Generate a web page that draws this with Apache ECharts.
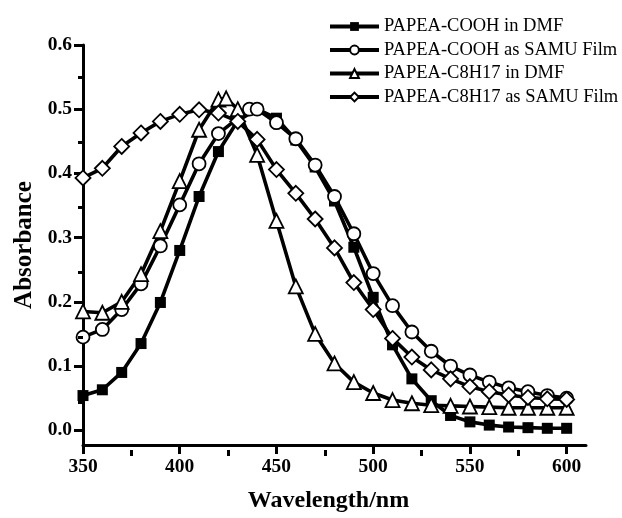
<!DOCTYPE html>
<html>
<head>
<meta charset="utf-8">
<script src="https://cdn.jsdelivr.net/npm/echarts@6/dist/echarts.min.js"></script>
<style>
  html, body { margin: 0; padding: 0; background: #fff; }
  #chart { width: 622px; height: 518px; }
</style>
</head>
<body>
<div id="chart"></div>
<script>
// PAPEA-COOH in DMF (filled squares)
const wlCoohDmf = [350, 360, 370, 380, 390, 400, 410, 420, 430, 440, 450, 460, 470, 480, 490, 500, 510, 520, 530, 540, 550, 560, 570, 580, 590, 600]
const absCoohDmf = [0.054, 0.063, 0.090, 0.135, 0.199, 0.280, 0.364, 0.434, 0.482, 0.500, 0.486, 0.452, 0.410, 0.357, 0.285, 0.207, 0.133, 0.080, 0.046, 0.023, 0.013, 0.008, 0.005, 0.004, 0.003, 0.003]

// PAPEA-COOH as SAMU Film (open circles)
const wlCoohFilm = [350, 360, 370, 380, 390, 400, 410, 420, 436, 440, 450, 460, 470, 480, 490, 500, 510, 520, 530, 540, 550, 560, 570, 580, 590, 600]
const absCoohFilm = [0.145, 0.157, 0.188, 0.228, 0.287, 0.351, 0.415, 0.462, 0.500, 0.500, 0.479, 0.454, 0.413, 0.364, 0.306, 0.244, 0.194, 0.153, 0.123, 0.100, 0.086, 0.075, 0.066, 0.060, 0.054, 0.050]

// PAPEA-C8H17 in DMF (open triangles)
const wlC8Dmf = [350, 360, 370, 380, 390, 400, 410, 420, 424, 430, 440, 450, 460, 470, 480, 490, 500, 510, 520, 530, 540, 550, 560, 570, 580, 590, 600]
const absC8Dmf = [0.185, 0.183, 0.200, 0.243, 0.310, 0.388, 0.468, 0.515, 0.517, 0.500, 0.429, 0.326, 0.224, 0.150, 0.104, 0.075, 0.058, 0.047, 0.042, 0.039, 0.038, 0.037, 0.036, 0.035, 0.035, 0.035, 0.035]

// PAPEA-C8H17 as SAMU Film (open diamonds)
const wlC8Film = [350, 360, 370, 380, 390, 400, 410, 420, 430, 440, 450, 460, 470, 480, 490, 500, 510, 520, 530, 540, 550, 560, 570, 580, 590, 600]
const absC8Film = [0.393, 0.408, 0.442, 0.463, 0.481, 0.492, 0.499, 0.494, 0.481, 0.453, 0.406, 0.369, 0.329, 0.284, 0.230, 0.188, 0.143, 0.114, 0.094, 0.080, 0.068, 0.060, 0.055, 0.051, 0.049, 0.048]

const seriesNames = ['PAPEA-COOH in DMF', 'PAPEA-COOH as SAMU Film', 'PAPEA-C8H17 in DMF', 'PAPEA-C8H17 as SAMU Film']

const xMajor = [350, 400, 450, 500, 550, 600]
const xMinor = [375, 425, 475, 525, 575]
const yMajor = [0, 0.1, 0.2, 0.3, 0.4, 0.5, 0.6]
const yMinor = [0.05, 0.15, 0.25, 0.35, 0.45, 0.55]

const X_MIN = 350, X_MAX = 610, Y_MIN = -0.023, Y_MAX = 0.6

const serif = 'Liberation Serif'
const gridBox = { left: 83, right: 36, top: 45, bottom: 68 }

function pairs(xs, ys) {
  return xs.map((x, i) => [x, ys[i]])
}

function lineSeries(name, xs, ys, symbol, size, filled) {
  return {
    name,
    type: 'line',
    data: pairs(xs, ys),
    symbol,
    symbolSize: size,
    showAllSymbol: true,
    lineStyle: { color: '#000', width: 3.6 },
    itemStyle: {
      color: filled ? '#000' : '#fff',
      borderColor: '#000',
      borderWidth: filled ? 0 : 1.8,
    },
    emphasis: { disabled: true },
  }
}

const chart = echarts.init(document.getElementById('chart'))

chart.setOption({
  animation: false,
  backgroundColor: '#fff',
  legend: {
    orient: 'vertical',
    left: 323,
    top: 12,
    itemWidth: 49,
    itemHeight: 11,
    itemGap: 4.5,
    data: seriesNames,
    lineStyle: { width: 4 },
    textStyle: { fontFamily: serif, fontSize: 18.5, lineHeight: 17, color: '#000' },
  },
  // second grid sits on the first one and only carries the minor ticks
  grid: [
    Object.assign({ containLabel: false }, gridBox),
    Object.assign({ containLabel: false }, gridBox),
  ],
  xAxis: [
    {
      type: 'value',
      position: 'bottom',
      min: X_MIN,
      max: X_MAX,
      name: 'Wavelength/nm',
      nameLocation: 'middle',
      nameGap: 44,
      nameTextStyle: {
        fontFamily: serif, fontWeight: 'bold', fontSize: 24, color: '#000',
        padding: [0, 12, 0, 0],
      },
      axisLine: { onZero: false, lineStyle: { color: '#000', width: 3 } },
      axisTick: { customValues: xMajor, length: 9, lineStyle: { color: '#000', width: 3 } },
      axisLabel: {
        customValues: xMajor,
        margin: 12,
        fontFamily: serif, fontWeight: 'bold', fontSize: 19.5, color: '#000',
      },
      splitLine: { show: false },
    },
    {
      type: 'value',
      gridIndex: 1,
      position: 'bottom',
      min: X_MIN,
      max: X_MAX,
      z: 5,
      axisLine: { show: false, onZero: false },
      axisTick: { show: true, customValues: xMinor, length: 6, lineStyle: { color: '#000', width: 3 } },
      axisLabel: { show: false },
      splitLine: { show: false },
    },
  ],
  yAxis: [
    {
      type: 'value',
      position: 'left',
      min: Y_MIN,
      max: Y_MAX,
      name: 'Absorbance',
      nameLocation: 'middle',
      nameGap: 33,
      nameRotate: 90,
      nameTextStyle: { fontFamily: serif, fontWeight: 'bold', fontSize: 25, color: '#000' },
      axisLine: { onZero: false, lineStyle: { color: '#000', width: 3 } },
      axisTick: { customValues: yMajor, length: 9, lineStyle: { color: '#000', width: 3 } },
      axisLabel: {
        customValues: yMajor,
        margin: 11,
        formatter: (v) => v.toFixed(1),
        fontFamily: serif, fontWeight: 'bold', fontSize: 19.5, color: '#000',
      },
      splitLine: { show: false },
    },
    {
      type: 'value',
      gridIndex: 1,
      position: 'left',
      min: Y_MIN,
      max: Y_MAX,
      z: 5,
      axisLine: { show: false, onZero: false },
      axisTick: { show: true, customValues: yMinor, length: 5, lineStyle: { color: '#000', width: 3 } },
      axisLabel: { show: false },
      splitLine: { show: false },
    },
  ],
  series: [
    lineSeries(seriesNames[0], wlCoohDmf, absCoohDmf, 'rect', 11, true),
    lineSeries(seriesNames[1], wlCoohFilm, absCoohFilm, 'circle', 13, false),
    lineSeries(seriesNames[2], wlC8Dmf, absC8Dmf, 'triangle', 14, false),
    lineSeries(seriesNames[3], wlC8Film, absC8Film, 'diamond', 15, false),
  ],
})
</script>
</body>
</html>
